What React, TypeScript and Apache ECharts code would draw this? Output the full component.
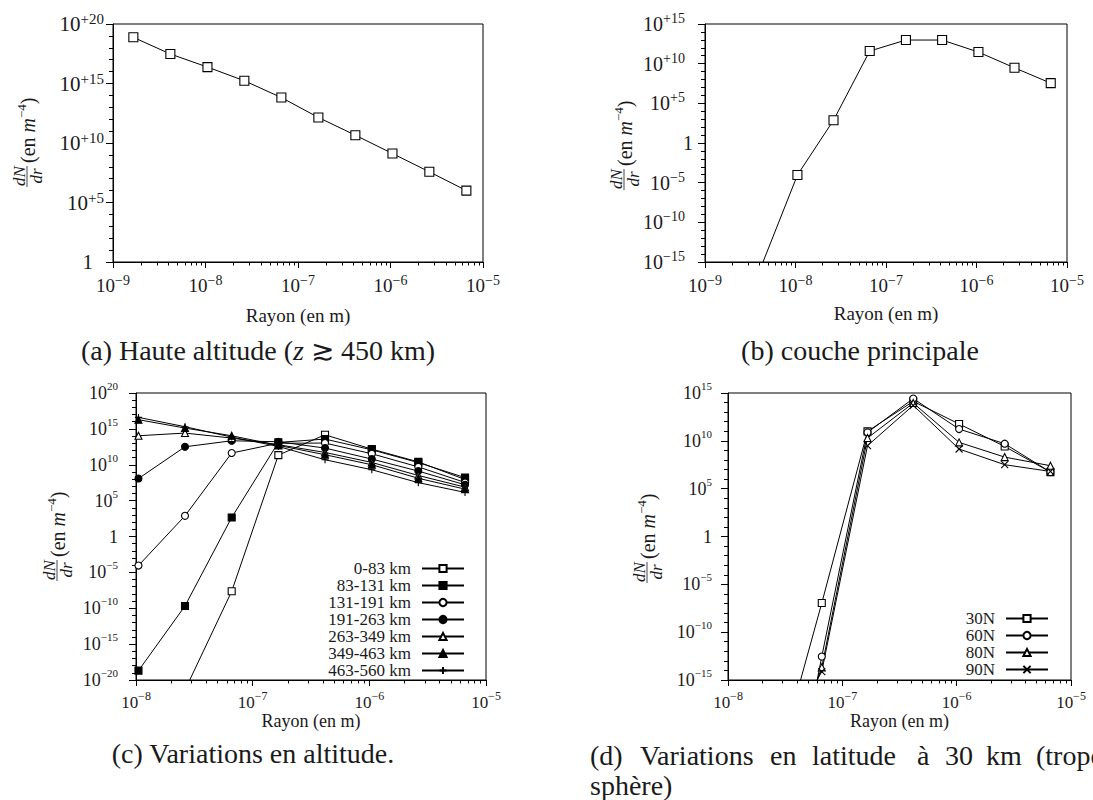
import React, { useEffect, useRef } from 'react';
import * as echarts from 'echarts';

const FONT = 'Liberation Serif';
const INK = '#000';
const TXT = '#1a1a1a';

// ---------- data ----------
const RADIUS = [1.66e-9, 4.17e-9, 1.05e-8, 2.63e-8, 6.61e-8, 1.66e-7, 4.17e-7, 1.05e-6, 2.63e-6, 6.61e-6];

// (a) Haute altitude
const HAUTE = [7.6e18, 3.0e17, 2.4e16, 1.7e15, 6.6e13, 1.4e12, 4.5e10, 1.3e9, 3.8e7, 1.0e6];
// (b) couche principale
const PRINCIPALE = [null, 2.5e-16, 9.1e-5, 7.4e2, 3.9e11, 9.5e12, 9.5e12, 2.9e11, 3.0e9, 3.5e7];

// (c) altitude bands
const ALT_NAMES = ['0-83 km', '83-131 km', '131-191 km', '191-263 km', '263-349 km', '349-463 km', '463-560 km'];
const ALT_0_83 = [null, null, null, 4e-22, 2.3e-8, 2.2e11, 1.5e14, 1.5e12, 2.5e10, 8.9e7];
const ALT_83_131 = [null, null, 2e-19, 2.1e-10, 4.5e2, 1.3e13, 3.8e13, 1.2e12, 2.0e10, 1.6e8];
const ALT_131_191 = [null, null, 8.9e-5, 7.6e2, 4.3e11, 1.0e13, 1.05e13, 3.4e11, 5.0e9, 3.4e7];
const ALT_191_263 = [null, null, 1.2e8, 3.2e12, 2.2e13, 1.6e13, 2.1e12, 6.2e10, 1.3e9, 1.6e7];
const ALT_263_349 = [null, null, 1.1e14, 2.6e14, 5.2e13, 6.2e12, 5.2e11, 2.1e10, 3.2e8, 7.6e6];
const ALT_349_463 = [null, null, 1.9e16, 1.3e15, 1.1e14, 5.0e12, 2.5e11, 1.0e10, 1.3e8, 4.0e6];
const ALT_463_560 = [null, null, 4.0e16, 2.0e15, 7.2e13, 3.6e12, 5.0e10, 2.0e9, 3.2e7, 1.4e6];
const ALT_VALUES = [ALT_0_83, ALT_83_131, ALT_131_191, ALT_191_263, ALT_263_349, ALT_349_463, ALT_463_560];

// (d) latitudes
const LAT_NAMES = ['30N', '60N', '80N', '90N'];
const LAT_30N = [null, null, null, 5e-25, 1.1e-7, 9.8e10, 1.35e14, 5.8e11, 2.6e9, 5.4e6];
const LAT_60N = [null, null, null, 1e-37, 2.8e-13, 7.6e10, 2.6e14, 1.7e11, 5.0e9, 5.4e6];
const LAT_80N = [null, null, null, 1e-27, 2.1e-14, 1.95e10, 8.9e13, 6.9e9, 2.0e8, 2.5e7];
const LAT_90N = [null, null, null, 1.3e-23, 7.6e-15, 3.1e9, 5.1e13, 1.4e9, 3.2e7, 6.3e6];
const LAT_VALUES = [LAT_30N, LAT_60N, LAT_80N, LAT_90N];

// ticks
const X_TICKS_AB = [1e-9, 1e-8, 1e-7, 1e-6, 1e-5];
const X_TICKS_CD = [1e-8, 1e-7, 1e-6, 1e-5];
const X_DECADES_AB = [-9, -8, -7, -6];
const X_DECADES_CD = [-8, -7, -6];
const MANTISSAS = [2, 3, 4, 5, 6, 7, 8, 9];
const Y_TICKS_A = [1, 1e5, 1e10, 1e15, 1e20];
const Y_TICKS_B = [1e-15, 1e-10, 1e-5, 1, 1e5, 1e10, 1e15];
const Y_TICKS_C = [1e-20, 1e-15, 1e-10, 1e-5, 1, 1e5, 1e10, 1e15, 1e20];
const Y_TICKS_D = [1e-15, 1e-10, 1e-5, 1, 1e5, 1e10, 1e15];

// ---------- helpers ----------
const EPS = 1e-9;
const minorX = (decades: number[]) => {
  const out: number[] = [];
  decades.forEach((d) => MANTISSAS.forEach((m) => out.push(m * Math.pow(10, d))));
  return out;
};
const decadesBetween = (lo: number, hi: number) => {
  const out: number[] = [];
  for (let e = lo; e <= hi; e++) out.push(Math.pow(10, e));
  return out;
};
const pairs = (ys: (number | null)[]) =>
  RADIUS.map((x, i) => [x, ys[i]]).filter((p) => p[1] !== null);

const powLabel = (v: number, plus: boolean) => {
  const e = Math.round(Math.log10(v));
  if (e === 0) return '{one|1}';
  const sign = e < 0 ? '\u2212' : plus ? '+' : '';
  return `{b|10}{s|${sign}${Math.abs(e)}}`;
};

const richFor = (base: number, sup: number, supPad: number, onePad: number) => ({
  b: { fontFamily: FONT, fontSize: base, lineHeight: 25, color: TXT },
  s: { fontFamily: FONT, fontSize: sup, lineHeight: sup, verticalAlign: 'top', color: TXT, padding: [0, supPad, 0, 0] },
  one: { fontFamily: FONT, fontSize: base, lineHeight: 25, color: TXT, padding: [0, onePad, 0, 0] },
});

type Panel = {
  grid: { left: number; top: number; width: number; height: number };
  xMin: number; xMax: number; xTicks: number[]; xDecades: number[];
  yMinExp: number; yMaxExp: number; yTicks: number[];
  plus: boolean; yMargin: number; supPad: number; onePad: number; xMargin: number; nameGap: number;
  xBase: number; xSup: number; yBase: number; ySup: number; nameSize: number;
};

const PANELS: Panel[] = [
  { grid: { left: 113, top: 24, width: 370, height: 238 }, xMin: 1e-9, xMax: 1e-5, xTicks: X_TICKS_AB, xDecades: X_DECADES_AB,
    yMinExp: 0, yMaxExp: 20, yTicks: Y_TICKS_A, plus: true, yMargin: 9, supPad: 0, onePad: 11, xMargin: 11, nameGap: 53,
    xBase: 19, xSup: 14, yBase: 21, ySup: 15, nameSize: 19 },
  { grid: { left: 705, top: 24, width: 362, height: 238 }, xMin: 1e-9, xMax: 1e-5, xTicks: X_TICKS_AB, xDecades: X_DECADES_AB,
    yMinExp: -15, yMaxExp: 15, yTicks: Y_TICKS_B, plus: true, yMargin: 12, supPad: 8, onePad: 0, xMargin: 11, nameGap: 51,
    xBase: 19, xSup: 14, yBase: 20, ySup: 14, nameSize: 19 },
  { grid: { left: 136, top: 393, width: 350, height: 287 }, xMin: 1e-8, xMax: 1e-5, xTicks: X_TICKS_CD, xDecades: X_DECADES_CD,
    yMinExp: -20, yMaxExp: 20, yTicks: Y_TICKS_C, plus: false, yMargin: 18, supPad: 0, onePad: 0, xMargin: 10, nameGap: 38,
    xBase: 17, xSup: 12, yBase: 18, ySup: 11, nameSize: 18 },
  { grid: { left: 728, top: 393, width: 343, height: 287 }, xMin: 1e-8, xMax: 1e-5, xTicks: X_TICKS_CD, xDecades: X_DECADES_CD,
    yMinExp: -15, yMaxExp: 15, yTicks: Y_TICKS_D, plus: false, yMargin: 16, supPad: 0, onePad: 0, xMargin: 10, nameGap: 38,
    xBase: 17, xSup: 12, yBase: 18, ySup: 11, nameSize: 18 },
];

const lineSeries = (name: string, panel: number, ys: (number | null)[], symbol: string, size: number, open: boolean) => ({
  type: 'line',
  name,
  xAxisIndex: panel * 2,
  yAxisIndex: panel * 2,
  data: pairs(ys),
  symbol,
  symbolSize: size,
  showSymbol: true,
  clip: true,
  silent: true,
  lineStyle: { color: INK, width: 1 },
  itemStyle: { color: open ? '#fff' : INK, borderColor: INK, borderWidth: 1.1 },
  emphasis: { disabled: true },
});

const PLUS = 'path://M5,0L5,10M0,5L10,5';
const CROSS = 'path://M0,0L10,10M0,10L10,0';
const ALT_SYMBOLS: [string, boolean][] = [
  ['rect', true], ['rect', false], ['circle', true], ['circle', false],
  ['triangle', true], ['triangle', false], [PLUS, false],
];
const LAT_SYMBOLS: [string, boolean][] = [['rect', true], ['circle', true], ['triangle', true], [CROSS, false]];

const yTitle = (cx: number, cy: number) => ({
  type: 'group',
  x: cx,
  y: cy,
  rotation: Math.PI / 2,
  silent: true,
  children: [
    { type: 'text', x: -38, y: -8, style: { text: 'dN', fontSize: 17, fontFamily: FONT, fontStyle: 'italic', fill: TXT, align: 'center', verticalAlign: 'middle' } },
    { type: 'line', shape: { x1: -49, y1: 0, x2: -28, y2: 0 }, style: { stroke: TXT, lineWidth: 0.8 } },
    { type: 'text', x: -38, y: 9, style: { text: 'dr', fontSize: 17, fontFamily: FONT, fontStyle: 'italic', fill: TXT, align: 'center', verticalAlign: 'middle' } },
    {
      type: 'text', x: -25, y: 1,
      style: {
        text: '{n|(en }{i|m}{s|\u22124}{n|)}', fontSize: 20, fontFamily: FONT, fill: TXT, align: 'left', verticalAlign: 'middle',
        rich: {
          n: { fontSize: 20, fontFamily: FONT, lineHeight: 26, fill: TXT },
          i: { fontSize: 20, fontFamily: FONT, fontStyle: 'italic', lineHeight: 26, fill: TXT },
          s: { fontSize: 13, fontFamily: FONT, lineHeight: 13, verticalAlign: 'top', fill: TXT },
        },
      },
    },
  ],
});

const CAP = 28;
const caption = (text: string, x: number, y: number, align: string, rich?: any) => ({
  type: 'text', x, y, silent: true,
  style: { text, fontSize: CAP, fontFamily: FONT, fill: TXT, align, verticalAlign: 'middle', rich },
});

const D_WORDS = ['(d)', 'Variations', 'en', 'latitude', '\u00e0', '30', 'km', '(tropo-'];
const D_WORD_X = [590, 640, 770, 812, 917, 945, 986, 1036];

export default function App() {
  const ref = useRef<HTMLDivElement>(null);
  useEffect(() => {
    if (!ref.current) return;
    const chart = echarts.init(ref.current, undefined, { renderer: 'svg' });

    const xAxis: any[] = [];
    const yAxis: any[] = [];
    PANELS.forEach((p, i) => {
      const xMin = p.xMin * (1 - EPS);
      const xMax = p.xMax * (1 + EPS);
      const yMin = Math.pow(10, p.yMinExp) * (1 - EPS);
      const yMax = Math.pow(10, p.yMaxExp) * (1 + EPS);
      xAxis.push({
        type: 'log', logBase: 10, gridIndex: i, min: xMin, max: xMax, position: 'bottom',
        axisLine: { show: true, onZero: false, lineStyle: { color: INK, width: 1 } },
        axisTick: { show: true, inside: false, length: 6, lineStyle: { color: INK, width: 1 }, customValues: p.xTicks },
        minorTick: { show: false },
        splitLine: { show: false },
        axisLabel: {
          customValues: p.xTicks, margin: p.xMargin, hideOverlap: false,
          formatter: (v: number) => powLabel(v, false), rich: richFor(p.xBase, p.xSup, 0, 0),
        },
        name: 'Rayon (en m)', nameLocation: 'middle', nameGap: p.nameGap,
        nameTextStyle: { fontFamily: FONT, fontSize: p.nameSize, color: TXT, verticalAlign: 'middle' },
      });
      xAxis.push({
        type: 'log', logBase: 10, gridIndex: i, min: xMin, max: xMax, position: 'bottom',
        axisLine: { show: false, onZero: false },
        axisTick: { show: true, inside: false, length: 3.5, lineStyle: { color: INK, width: 1 }, customValues: minorX(p.xDecades) },
        minorTick: { show: false }, splitLine: { show: false }, axisLabel: { show: false },
      });
      yAxis.push({
        type: 'log', logBase: 10, gridIndex: i, min: yMin, max: yMax, position: 'left',
        axisLine: { show: true, onZero: false, lineStyle: { color: INK, width: 1 } },
        axisTick: { show: true, inside: false, length: 7, lineStyle: { color: INK, width: 1 }, customValues: p.yTicks },
        minorTick: { show: false }, splitLine: { show: false },
        axisLabel: {
          customValues: p.yTicks, margin: p.yMargin, hideOverlap: false,
          formatter: (v: number) => powLabel(v, p.plus), rich: richFor(p.yBase, p.ySup, p.supPad, p.onePad),
        },
      });
      yAxis.push({
        type: 'log', logBase: 10, gridIndex: i, min: yMin, max: yMax, position: 'left',
        axisLine: { show: false, onZero: false },
        axisTick: { show: true, inside: false, length: 4, lineStyle: { color: INK, width: 1 }, customValues: decadesBetween(p.yMinExp, p.yMaxExp) },
        minorTick: { show: false }, splitLine: { show: false }, axisLabel: { show: false },
      });
    });

    const series: any[] = [
      lineSeries('Haute altitude', 0, HAUTE, 'rect', 9, true),
      lineSeries('Couche principale', 1, PRINCIPALE, 'rect', 9, true),
      ...ALT_NAMES.map((n, k) => lineSeries(n, 2, ALT_VALUES[k], ALT_SYMBOLS[k][0], 7, ALT_SYMBOLS[k][1])),
      ...LAT_NAMES.map((n, k) => lineSeries(n, 3, LAT_VALUES[k], LAT_SYMBOLS[k][0], 7, LAT_SYMBOLS[k][1])),
    ];

    const legendBase = {
      orient: 'vertical', align: 'right', padding: 0, itemGap: 0, itemWidth: 42, itemHeight: 9,
      selectedMode: false,
      textStyle: { fontFamily: FONT, fontSize: 17, lineHeight: 16.3, color: TXT, padding: [0, 6, 0, 0] },
    };

    const graphic: any[] = [
      yTitle(27, 138),
      yTitle(624, 141),
      yTitle(57, 532),
      yTitle(647, 534),
      caption('(a) Haute altitude ({i|z} \u2273 450 km)', 258, 350, 'center', {
        i: { fontSize: CAP, fontFamily: FONT, fontStyle: 'italic', fill: TXT },
      }),
      caption('(b) couche principale', 860, 350, 'center'),
      caption('(c) Variations en altitude.', 253, 753, 'center'),
      ...D_WORDS.map((w, k) => caption(w, D_WORD_X[k], 755, 'left')),
      caption('sph\u00e8re)', 590, 785, 'left'),
    ];

    chart.setOption({
      animation: false,
      backgroundColor: '#fff',
      textStyle: { fontFamily: FONT },
      grid: PANELS.map((p) => ({ ...p.grid, show: true, borderColor: INK, borderWidth: 1, backgroundColor: 'transparent' })),
      xAxis,
      yAxis,
      legend: [
        { ...legendBase, data: ALT_NAMES, right: 1093 - 465, top: 560 },
        { ...legendBase, data: LAT_NAMES, right: 1093 - 1049, top: 610 },
      ],
      series,
      graphic,
    });
    return () => chart.dispose();
  }, []);
  return <div ref={ref} style={{ position: 'absolute', left: 0, top: 0, width: 1093, height: 800, background: '#fff' }} />;
}
